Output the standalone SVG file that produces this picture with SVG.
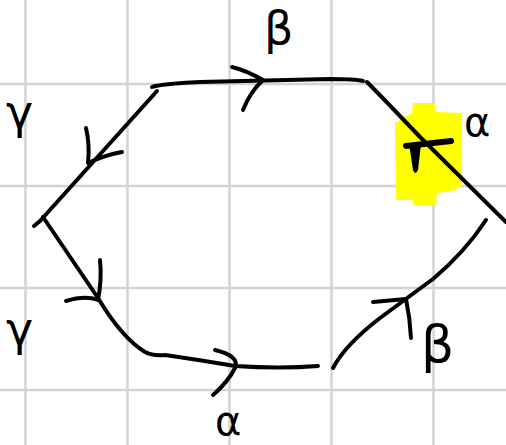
<svg xmlns="http://www.w3.org/2000/svg" width="506" height="445" viewBox="0 0 506 445">
<style>
.grid{stroke:#d3d3d3;stroke-width:2.5;fill:none}
.ink{stroke:#000;stroke-width:4;fill:none;stroke-linecap:round;stroke-linejoin:round}
.lbl{font-family:"DejaVu Sans",sans-serif;fill:#000}
</style>
<rect width="506" height="445" fill="#fff"/>
<g id="grid" class="grid">
<line x1="25.5" y1="0" x2="25.5" y2="445"/>
<line x1="127.5" y1="0" x2="127.5" y2="445"/>
<line x1="229.5" y1="0" x2="229.5" y2="445"/>
<line x1="331.5" y1="0" x2="331.5" y2="445"/>
<line x1="433.5" y1="0" x2="433.5" y2="445"/>
<line x1="0" y1="84" x2="506" y2="84"/>
<line x1="0" y1="186" x2="506" y2="186"/>
<line x1="0" y1="288" x2="506" y2="288"/>
<line x1="0" y1="390" x2="506" y2="390"/>
</g>
<g id="highlight">
<polygon fill="#ffff00" points="413,103 435,103 436,112 462,113 462,186 452,191 437,193 436,205 414,205 412,200 396,200 395,123 412,113"/>
<path d="M406,146 L451,141" stroke="#000" stroke-width="6" stroke-linecap="round"/>
<path d="M409,144 L421,144 L418,170 Q415,176 413,170 Z" fill="#000"/>
</g>
<g id="connectors" class="ink">
<path d="M152,87 Q160,84 200,82 L330,79 Q355,79 363,81"/>
<path d="M367,82 Q380,95 420,137 L506,222"/>
<path d="M157,91 L40,221 L34,226"/>
<path d="M43,217 L98,298 Q122,338 145,352 Q152,356 165,355 Q200,360 235,366 Q280,369 318,366"/>
<path d="M333,368 Q345,345 380,318 L433,279 Q465,252 486,220"/>
<path d="M232,67 Q245,70 263,80 Q250,92 243,110"/>
<path d="M86,128 Q90,145 88,163 Q105,155 122,152"/>
<path d="M100,260 Q102,280 98,300 Q85,295 66,301"/>
<path d="M215,350 Q240,356 235,368 Q228,382 213,395"/>
<path d="M373,302 L406,299 Q410,318 411,338"/>
</g>
<g id="labels" class="lbl">
<text x="264" y="44" font-size="46">β</text>
<text x="464" y="136" font-size="40">α</text>
<text x="6" y="128" font-size="46">γ</text>
<text x="6" y="345" font-size="46">γ</text>
<text x="421" y="362" font-size="52">β</text>
<text x="215" y="435" font-size="40">α</text>
</g>
</svg>
